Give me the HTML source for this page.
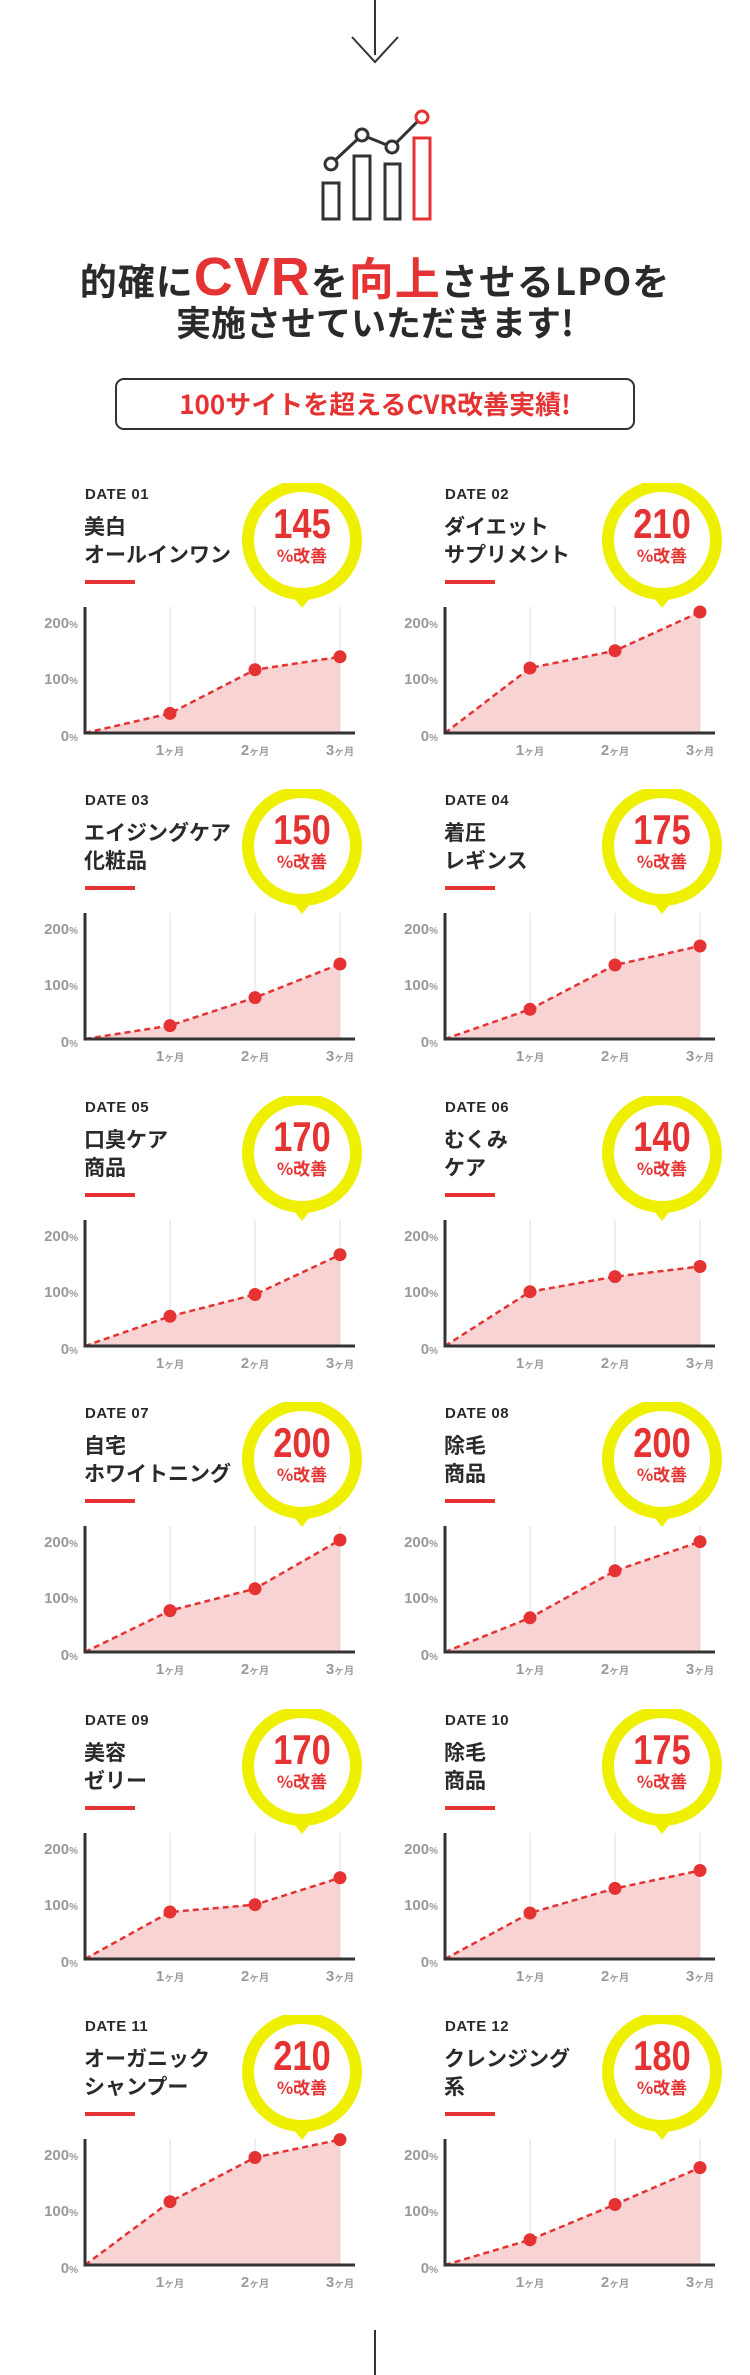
<!DOCTYPE html>
<html><head><meta charset="utf-8">
<style>
*{margin:0;padding:0;box-sizing:border-box}
body{width:750px;height:2375px;background:#fff;position:relative;overflow:hidden;font-family:"Liberation Sans","Noto Sans CJK JP",sans-serif;color:#333}
.abs{position:absolute}
.card{position:absolute;width:375px;height:290px}
.card svg{position:absolute;left:0;top:0}
.date{position:absolute;left:85px;top:3px;font-size:15px;font-weight:bold;color:#2a2a2a;letter-spacing:.5px}
.ttl{position:absolute;left:84px;top:29px;font-size:21px;line-height:28px;font-weight:bold;color:#2a2a2a;white-space:nowrap;font-family:"Noto Sans CJK JP",sans-serif}
.ul{position:absolute;left:85px;top:97px;width:50px;height:4px;background:#e53333}
.h1{position:absolute;left:0;width:750px;text-align:center;font-weight:bold;color:#2a2a2a;font-family:"Noto Sans CJK JP",sans-serif;white-space:nowrap}
.r{color:#e53333}
</style></head><body>

<svg class="abs" style="left:0;top:0" width="750" height="230">
<line x1="375" y1="0" x2="375" y2="55" stroke="#333" stroke-width="2"/>
<polyline points="352,37 375,62 398,37" fill="none" stroke="#333" stroke-width="2"/>
<g fill="none" stroke-width="3">
<rect x="323" y="183" width="16" height="36" stroke="#333"/>
<rect x="354" y="156" width="16" height="63" stroke="#333"/>
<rect x="385" y="164" width="15" height="55" stroke="#333"/>
<rect x="414" y="138" width="16" height="81" stroke="#e53333"/>
<polyline points="331,164 362,135 392,147 422,117" stroke="#333"/>
<circle cx="331" cy="164" r="6" stroke="#333" fill="#fff"/>
<circle cx="362" cy="135" r="6" stroke="#333" fill="#fff"/>
<circle cx="392" cy="147" r="6" stroke="#333" fill="#fff"/>
<circle cx="422" cy="117" r="6" stroke="#e53333" fill="#fff"/>
</g>
</svg>

<div class="h1" style="top:250px;font-size:37px;line-height:52px;letter-spacing:1px">的確に<span class="r" style="font-family:'Liberation Sans',sans-serif;font-size:54px">CVR</span>を<span class="r" style="font-size:45px">向上</span>させるLPOを</div>
<div class="h1" style="top:300px;font-size:35px;line-height:44px">実施させていただきます!</div>
<div class="abs" style="left:115px;top:378px;width:520px;height:52px;border:2px solid #333;border-radius:9px;text-align:center;font-size:26px;line-height:48px;font-weight:bold;color:#e53333;font-family:'Noto Sans CJK JP',sans-serif">100サイトを超えるCVR改善実績!</div>

<div class="card" style="left:0;top:483px"><div class="date">DATE 01</div><div class="ttl">美白<br>オールインワン</div><div class="ul"></div>
<svg width="375" height="290"><g font-weight="bold" font-family="Liberation Sans,sans-serif">
<polygon points="290,110 314,110 302,125" fill="#eef000"/><circle cx="302" cy="57" r="54" fill="#fff" stroke="#eef000" stroke-width="12"/>
<text transform="translate(302,55) scale(0.82,1)" text-anchor="middle" font-size="42" fill="#e53333">145</text>
<text x="302" y="79" text-anchor="middle" font-size="17" fill="#e53333" font-family="Noto Sans CJK JP,sans-serif">%改善</text>
<g stroke="#e8e8e8" stroke-width="1.5"><line x1="170" y1="124" x2="170" y2="250"/><line x1="255" y1="124" x2="255" y2="250"/><line x1="340" y1="124" x2="340" y2="250"/></g>
<polygon points="85,250 170,230.4 255,186.7 340,173.8 340,250" fill="#f7d3d3"/>
<polyline points="85,250 170,230.4 255,186.7 340,173.8" fill="none" stroke="#e53333" stroke-width="2.5" stroke-dasharray="6 4"/>
<g fill="#e53333"><circle cx="170" cy="230.4" r="6.5"/><circle cx="255" cy="186.7" r="6.5"/><circle cx="340" cy="173.8" r="6.5"/></g>
<polyline points="85,124 85,250 355,250" fill="none" stroke="#333" stroke-width="3"/>
<g fill="#999" font-size="15" text-anchor="end"><text x="78" y="145">200<tspan font-size="10">%</tspan></text><text x="78" y="201">100<tspan font-size="10">%</tspan></text><text x="78" y="258">0<tspan font-size="10">%</tspan></text></g>
<g fill="#999" font-size="15" text-anchor="middle"><text x="170" y="272">1<tspan font-size="10">ヶ月</tspan></text><text x="255" y="272">2<tspan font-size="10">ヶ月</tspan></text><text x="340" y="272">3<tspan font-size="10">ヶ月</tspan></text></g>
</g></svg></div>

<div class="card" style="left:360px;top:483px"><div class="date">DATE 02</div><div class="ttl">ダイエット<br>サプリメント</div><div class="ul"></div>
<svg width="375" height="290"><g font-weight="bold" font-family="Liberation Sans,sans-serif">
<polygon points="290,110 314,110 302,125" fill="#eef000"/><circle cx="302" cy="57" r="54" fill="#fff" stroke="#eef000" stroke-width="12"/>
<text transform="translate(302,55) scale(0.82,1)" text-anchor="middle" font-size="42" fill="#e53333">210</text>
<text x="302" y="79" text-anchor="middle" font-size="17" fill="#e53333" font-family="Noto Sans CJK JP,sans-serif">%改善</text>
<g stroke="#e8e8e8" stroke-width="1.5"><line x1="170" y1="124" x2="170" y2="250"/><line x1="255" y1="124" x2="255" y2="250"/><line x1="340" y1="124" x2="340" y2="250"/></g>
<polygon points="85,250 170,185 255,167.7 340,129 340,250" fill="#f7d3d3"/>
<polyline points="85,250 170,185 255,167.7 340,129" fill="none" stroke="#e53333" stroke-width="2.5" stroke-dasharray="6 4"/>
<g fill="#e53333"><circle cx="170" cy="185" r="6.5"/><circle cx="255" cy="167.7" r="6.5"/><circle cx="340" cy="129" r="6.5"/></g>
<polyline points="85,124 85,250 355,250" fill="none" stroke="#333" stroke-width="3"/>
<g fill="#999" font-size="15" text-anchor="end"><text x="78" y="145">200<tspan font-size="10">%</tspan></text><text x="78" y="201">100<tspan font-size="10">%</tspan></text><text x="78" y="258">0<tspan font-size="10">%</tspan></text></g>
<g fill="#999" font-size="15" text-anchor="middle"><text x="170" y="272">1<tspan font-size="10">ヶ月</tspan></text><text x="255" y="272">2<tspan font-size="10">ヶ月</tspan></text><text x="340" y="272">3<tspan font-size="10">ヶ月</tspan></text></g>
</g></svg></div>

<div class="card" style="left:0;top:789px"><div class="date">DATE 03</div><div class="ttl">エイジングケア<br>化粧品</div><div class="ul"></div>
<svg width="375" height="290"><g font-weight="bold" font-family="Liberation Sans,sans-serif">
<polygon points="290,110 314,110 302,125" fill="#eef000"/><circle cx="302" cy="57" r="54" fill="#fff" stroke="#eef000" stroke-width="12"/>
<text transform="translate(302,55) scale(0.82,1)" text-anchor="middle" font-size="42" fill="#e53333">150</text>
<text x="302" y="79" text-anchor="middle" font-size="17" fill="#e53333" font-family="Noto Sans CJK JP,sans-serif">%改善</text>
<g stroke="#e8e8e8" stroke-width="1.5"><line x1="170" y1="124" x2="170" y2="250"/><line x1="255" y1="124" x2="255" y2="250"/><line x1="340" y1="124" x2="340" y2="250"/></g>
<polygon points="85,250 170,236.6 255,208.6 340,175 340,250" fill="#f7d3d3"/>
<polyline points="85,250 170,236.6 255,208.6 340,175" fill="none" stroke="#e53333" stroke-width="2.5" stroke-dasharray="6 4"/>
<g fill="#e53333"><circle cx="170" cy="236.6" r="6.5"/><circle cx="255" cy="208.6" r="6.5"/><circle cx="340" cy="175" r="6.5"/></g>
<polyline points="85,124 85,250 355,250" fill="none" stroke="#333" stroke-width="3"/>
<g fill="#999" font-size="15" text-anchor="end"><text x="78" y="145">200<tspan font-size="10">%</tspan></text><text x="78" y="201">100<tspan font-size="10">%</tspan></text><text x="78" y="258">0<tspan font-size="10">%</tspan></text></g>
<g fill="#999" font-size="15" text-anchor="middle"><text x="170" y="272">1<tspan font-size="10">ヶ月</tspan></text><text x="255" y="272">2<tspan font-size="10">ヶ月</tspan></text><text x="340" y="272">3<tspan font-size="10">ヶ月</tspan></text></g>
</g></svg></div>

<div class="card" style="left:360px;top:789px"><div class="date">DATE 04</div><div class="ttl">着圧<br>レギンス</div><div class="ul"></div>
<svg width="375" height="290"><g font-weight="bold" font-family="Liberation Sans,sans-serif">
<polygon points="290,110 314,110 302,125" fill="#eef000"/><circle cx="302" cy="57" r="54" fill="#fff" stroke="#eef000" stroke-width="12"/>
<text transform="translate(302,55) scale(0.82,1)" text-anchor="middle" font-size="42" fill="#e53333">175</text>
<text x="302" y="79" text-anchor="middle" font-size="17" fill="#e53333" font-family="Noto Sans CJK JP,sans-serif">%改善</text>
<g stroke="#e8e8e8" stroke-width="1.5"><line x1="170" y1="124" x2="170" y2="250"/><line x1="255" y1="124" x2="255" y2="250"/><line x1="340" y1="124" x2="340" y2="250"/></g>
<polygon points="85,250 170,220.3 255,176 340,157 340,250" fill="#f7d3d3"/>
<polyline points="85,250 170,220.3 255,176 340,157" fill="none" stroke="#e53333" stroke-width="2.5" stroke-dasharray="6 4"/>
<g fill="#e53333"><circle cx="170" cy="220.3" r="6.5"/><circle cx="255" cy="176" r="6.5"/><circle cx="340" cy="157" r="6.5"/></g>
<polyline points="85,124 85,250 355,250" fill="none" stroke="#333" stroke-width="3"/>
<g fill="#999" font-size="15" text-anchor="end"><text x="78" y="145">200<tspan font-size="10">%</tspan></text><text x="78" y="201">100<tspan font-size="10">%</tspan></text><text x="78" y="258">0<tspan font-size="10">%</tspan></text></g>
<g fill="#999" font-size="15" text-anchor="middle"><text x="170" y="272">1<tspan font-size="10">ヶ月</tspan></text><text x="255" y="272">2<tspan font-size="10">ヶ月</tspan></text><text x="340" y="272">3<tspan font-size="10">ヶ月</tspan></text></g>
</g></svg></div>

<div class="card" style="left:0;top:1096px"><div class="date">DATE 05</div><div class="ttl">口臭ケア<br>商品</div><div class="ul"></div>
<svg width="375" height="290"><g font-weight="bold" font-family="Liberation Sans,sans-serif">
<polygon points="290,110 314,110 302,125" fill="#eef000"/><circle cx="302" cy="57" r="54" fill="#fff" stroke="#eef000" stroke-width="12"/>
<text transform="translate(302,55) scale(0.82,1)" text-anchor="middle" font-size="42" fill="#e53333">170</text>
<text x="302" y="79" text-anchor="middle" font-size="17" fill="#e53333" font-family="Noto Sans CJK JP,sans-serif">%改善</text>
<g stroke="#e8e8e8" stroke-width="1.5"><line x1="170" y1="124" x2="170" y2="250"/><line x1="255" y1="124" x2="255" y2="250"/><line x1="340" y1="124" x2="340" y2="250"/></g>
<polygon points="85,250 170,220.3 255,198.5 340,158.7 340,250" fill="#f7d3d3"/>
<polyline points="85,250 170,220.3 255,198.5 340,158.7" fill="none" stroke="#e53333" stroke-width="2.5" stroke-dasharray="6 4"/>
<g fill="#e53333"><circle cx="170" cy="220.3" r="6.5"/><circle cx="255" cy="198.5" r="6.5"/><circle cx="340" cy="158.7" r="6.5"/></g>
<polyline points="85,124 85,250 355,250" fill="none" stroke="#333" stroke-width="3"/>
<g fill="#999" font-size="15" text-anchor="end"><text x="78" y="145">200<tspan font-size="10">%</tspan></text><text x="78" y="201">100<tspan font-size="10">%</tspan></text><text x="78" y="258">0<tspan font-size="10">%</tspan></text></g>
<g fill="#999" font-size="15" text-anchor="middle"><text x="170" y="272">1<tspan font-size="10">ヶ月</tspan></text><text x="255" y="272">2<tspan font-size="10">ヶ月</tspan></text><text x="340" y="272">3<tspan font-size="10">ヶ月</tspan></text></g>
</g></svg></div>

<div class="card" style="left:360px;top:1096px"><div class="date">DATE 06</div><div class="ttl">むくみ<br>ケア</div><div class="ul"></div>
<svg width="375" height="290"><g font-weight="bold" font-family="Liberation Sans,sans-serif">
<polygon points="290,110 314,110 302,125" fill="#eef000"/><circle cx="302" cy="57" r="54" fill="#fff" stroke="#eef000" stroke-width="12"/>
<text transform="translate(302,55) scale(0.82,1)" text-anchor="middle" font-size="42" fill="#e53333">140</text>
<text x="302" y="79" text-anchor="middle" font-size="17" fill="#e53333" font-family="Noto Sans CJK JP,sans-serif">%改善</text>
<g stroke="#e8e8e8" stroke-width="1.5"><line x1="170" y1="124" x2="170" y2="250"/><line x1="255" y1="124" x2="255" y2="250"/><line x1="340" y1="124" x2="340" y2="250"/></g>
<polygon points="85,250 170,195.7 255,180.6 340,170.5 340,250" fill="#f7d3d3"/>
<polyline points="85,250 170,195.7 255,180.6 340,170.5" fill="none" stroke="#e53333" stroke-width="2.5" stroke-dasharray="6 4"/>
<g fill="#e53333"><circle cx="170" cy="195.7" r="6.5"/><circle cx="255" cy="180.6" r="6.5"/><circle cx="340" cy="170.5" r="6.5"/></g>
<polyline points="85,124 85,250 355,250" fill="none" stroke="#333" stroke-width="3"/>
<g fill="#999" font-size="15" text-anchor="end"><text x="78" y="145">200<tspan font-size="10">%</tspan></text><text x="78" y="201">100<tspan font-size="10">%</tspan></text><text x="78" y="258">0<tspan font-size="10">%</tspan></text></g>
<g fill="#999" font-size="15" text-anchor="middle"><text x="170" y="272">1<tspan font-size="10">ヶ月</tspan></text><text x="255" y="272">2<tspan font-size="10">ヶ月</tspan></text><text x="340" y="272">3<tspan font-size="10">ヶ月</tspan></text></g>
</g></svg></div>

<div class="card" style="left:0;top:1402px"><div class="date">DATE 07</div><div class="ttl">自宅<br>ホワイトニング</div><div class="ul"></div>
<svg width="375" height="290"><g font-weight="bold" font-family="Liberation Sans,sans-serif">
<polygon points="290,110 314,110 302,125" fill="#eef000"/><circle cx="302" cy="57" r="54" fill="#fff" stroke="#eef000" stroke-width="12"/>
<text transform="translate(302,55) scale(0.82,1)" text-anchor="middle" font-size="42" fill="#e53333">200</text>
<text x="302" y="79" text-anchor="middle" font-size="17" fill="#e53333" font-family="Noto Sans CJK JP,sans-serif">%改善</text>
<g stroke="#e8e8e8" stroke-width="1.5"><line x1="170" y1="124" x2="170" y2="250"/><line x1="255" y1="124" x2="255" y2="250"/><line x1="340" y1="124" x2="340" y2="250"/></g>
<polygon points="85,250 170,208.6 255,186.7 340,138 340,250" fill="#f7d3d3"/>
<polyline points="85,250 170,208.6 255,186.7 340,138" fill="none" stroke="#e53333" stroke-width="2.5" stroke-dasharray="6 4"/>
<g fill="#e53333"><circle cx="170" cy="208.6" r="6.5"/><circle cx="255" cy="186.7" r="6.5"/><circle cx="340" cy="138" r="6.5"/></g>
<polyline points="85,124 85,250 355,250" fill="none" stroke="#333" stroke-width="3"/>
<g fill="#999" font-size="15" text-anchor="end"><text x="78" y="145">200<tspan font-size="10">%</tspan></text><text x="78" y="201">100<tspan font-size="10">%</tspan></text><text x="78" y="258">0<tspan font-size="10">%</tspan></text></g>
<g fill="#999" font-size="15" text-anchor="middle"><text x="170" y="272">1<tspan font-size="10">ヶ月</tspan></text><text x="255" y="272">2<tspan font-size="10">ヶ月</tspan></text><text x="340" y="272">3<tspan font-size="10">ヶ月</tspan></text></g>
</g></svg></div>

<div class="card" style="left:360px;top:1402px"><div class="date">DATE 08</div><div class="ttl">除毛<br>商品</div><div class="ul"></div>
<svg width="375" height="290"><g font-weight="bold" font-family="Liberation Sans,sans-serif">
<polygon points="290,110 314,110 302,125" fill="#eef000"/><circle cx="302" cy="57" r="54" fill="#fff" stroke="#eef000" stroke-width="12"/>
<text transform="translate(302,55) scale(0.82,1)" text-anchor="middle" font-size="42" fill="#e53333">200</text>
<text x="302" y="79" text-anchor="middle" font-size="17" fill="#e53333" font-family="Noto Sans CJK JP,sans-serif">%改善</text>
<g stroke="#e8e8e8" stroke-width="1.5"><line x1="170" y1="124" x2="170" y2="250"/><line x1="255" y1="124" x2="255" y2="250"/><line x1="340" y1="124" x2="340" y2="250"/></g>
<polygon points="85,250 170,215.8 255,168.8 340,139.7 340,250" fill="#f7d3d3"/>
<polyline points="85,250 170,215.8 255,168.8 340,139.7" fill="none" stroke="#e53333" stroke-width="2.5" stroke-dasharray="6 4"/>
<g fill="#e53333"><circle cx="170" cy="215.8" r="6.5"/><circle cx="255" cy="168.8" r="6.5"/><circle cx="340" cy="139.7" r="6.5"/></g>
<polyline points="85,124 85,250 355,250" fill="none" stroke="#333" stroke-width="3"/>
<g fill="#999" font-size="15" text-anchor="end"><text x="78" y="145">200<tspan font-size="10">%</tspan></text><text x="78" y="201">100<tspan font-size="10">%</tspan></text><text x="78" y="258">0<tspan font-size="10">%</tspan></text></g>
<g fill="#999" font-size="15" text-anchor="middle"><text x="170" y="272">1<tspan font-size="10">ヶ月</tspan></text><text x="255" y="272">2<tspan font-size="10">ヶ月</tspan></text><text x="340" y="272">3<tspan font-size="10">ヶ月</tspan></text></g>
</g></svg></div>

<div class="card" style="left:0;top:1709px"><div class="date">DATE 09</div><div class="ttl">美容<br>ゼリー</div><div class="ul"></div>
<svg width="375" height="290"><g font-weight="bold" font-family="Liberation Sans,sans-serif">
<polygon points="290,110 314,110 302,125" fill="#eef000"/><circle cx="302" cy="57" r="54" fill="#fff" stroke="#eef000" stroke-width="12"/>
<text transform="translate(302,55) scale(0.82,1)" text-anchor="middle" font-size="42" fill="#e53333">170</text>
<text x="302" y="79" text-anchor="middle" font-size="17" fill="#e53333" font-family="Noto Sans CJK JP,sans-serif">%改善</text>
<g stroke="#e8e8e8" stroke-width="1.5"><line x1="170" y1="124" x2="170" y2="250"/><line x1="255" y1="124" x2="255" y2="250"/><line x1="340" y1="124" x2="340" y2="250"/></g>
<polygon points="85,250 170,203 255,195.7 340,168.8 340,250" fill="#f7d3d3"/>
<polyline points="85,250 170,203 255,195.7 340,168.8" fill="none" stroke="#e53333" stroke-width="2.5" stroke-dasharray="6 4"/>
<g fill="#e53333"><circle cx="170" cy="203" r="6.5"/><circle cx="255" cy="195.7" r="6.5"/><circle cx="340" cy="168.8" r="6.5"/></g>
<polyline points="85,124 85,250 355,250" fill="none" stroke="#333" stroke-width="3"/>
<g fill="#999" font-size="15" text-anchor="end"><text x="78" y="145">200<tspan font-size="10">%</tspan></text><text x="78" y="201">100<tspan font-size="10">%</tspan></text><text x="78" y="258">0<tspan font-size="10">%</tspan></text></g>
<g fill="#999" font-size="15" text-anchor="middle"><text x="170" y="272">1<tspan font-size="10">ヶ月</tspan></text><text x="255" y="272">2<tspan font-size="10">ヶ月</tspan></text><text x="340" y="272">3<tspan font-size="10">ヶ月</tspan></text></g>
</g></svg></div>

<div class="card" style="left:360px;top:1709px"><div class="date">DATE 10</div><div class="ttl">除毛<br>商品</div><div class="ul"></div>
<svg width="375" height="290"><g font-weight="bold" font-family="Liberation Sans,sans-serif">
<polygon points="290,110 314,110 302,125" fill="#eef000"/><circle cx="302" cy="57" r="54" fill="#fff" stroke="#eef000" stroke-width="12"/>
<text transform="translate(302,55) scale(0.82,1)" text-anchor="middle" font-size="42" fill="#e53333">175</text>
<text x="302" y="79" text-anchor="middle" font-size="17" fill="#e53333" font-family="Noto Sans CJK JP,sans-serif">%改善</text>
<g stroke="#e8e8e8" stroke-width="1.5"><line x1="170" y1="124" x2="170" y2="250"/><line x1="255" y1="124" x2="255" y2="250"/><line x1="340" y1="124" x2="340" y2="250"/></g>
<polygon points="85,250 170,204 255,179.4 340,161.5 340,250" fill="#f7d3d3"/>
<polyline points="85,250 170,204 255,179.4 340,161.5" fill="none" stroke="#e53333" stroke-width="2.5" stroke-dasharray="6 4"/>
<g fill="#e53333"><circle cx="170" cy="204" r="6.5"/><circle cx="255" cy="179.4" r="6.5"/><circle cx="340" cy="161.5" r="6.5"/></g>
<polyline points="85,124 85,250 355,250" fill="none" stroke="#333" stroke-width="3"/>
<g fill="#999" font-size="15" text-anchor="end"><text x="78" y="145">200<tspan font-size="10">%</tspan></text><text x="78" y="201">100<tspan font-size="10">%</tspan></text><text x="78" y="258">0<tspan font-size="10">%</tspan></text></g>
<g fill="#999" font-size="15" text-anchor="middle"><text x="170" y="272">1<tspan font-size="10">ヶ月</tspan></text><text x="255" y="272">2<tspan font-size="10">ヶ月</tspan></text><text x="340" y="272">3<tspan font-size="10">ヶ月</tspan></text></g>
</g></svg></div>

<div class="card" style="left:0;top:2015px"><div class="date">DATE 11</div><div class="ttl">オーガニック<br>シャンプー</div><div class="ul"></div>
<svg width="375" height="290"><g font-weight="bold" font-family="Liberation Sans,sans-serif">
<polygon points="290,110 314,110 302,125" fill="#eef000"/><circle cx="302" cy="57" r="54" fill="#fff" stroke="#eef000" stroke-width="12"/>
<text transform="translate(302,55) scale(0.82,1)" text-anchor="middle" font-size="42" fill="#e53333">210</text>
<text x="302" y="79" text-anchor="middle" font-size="17" fill="#e53333" font-family="Noto Sans CJK JP,sans-serif">%改善</text>
<g stroke="#e8e8e8" stroke-width="1.5"><line x1="170" y1="124" x2="170" y2="250"/><line x1="255" y1="124" x2="255" y2="250"/><line x1="340" y1="124" x2="340" y2="250"/></g>
<polygon points="85,250 170,186.7 255,142.5 340,124.6 340,250" fill="#f7d3d3"/>
<polyline points="85,250 170,186.7 255,142.5 340,124.6" fill="none" stroke="#e53333" stroke-width="2.5" stroke-dasharray="6 4"/>
<g fill="#e53333"><circle cx="170" cy="186.7" r="6.5"/><circle cx="255" cy="142.5" r="6.5"/><circle cx="340" cy="124.6" r="6.5"/></g>
<polyline points="85,124 85,250 355,250" fill="none" stroke="#333" stroke-width="3"/>
<g fill="#999" font-size="15" text-anchor="end"><text x="78" y="145">200<tspan font-size="10">%</tspan></text><text x="78" y="201">100<tspan font-size="10">%</tspan></text><text x="78" y="258">0<tspan font-size="10">%</tspan></text></g>
<g fill="#999" font-size="15" text-anchor="middle"><text x="170" y="272">1<tspan font-size="10">ヶ月</tspan></text><text x="255" y="272">2<tspan font-size="10">ヶ月</tspan></text><text x="340" y="272">3<tspan font-size="10">ヶ月</tspan></text></g>
</g></svg></div>

<div class="card" style="left:360px;top:2015px"><div class="date">DATE 12</div><div class="ttl">クレンジング<br>系</div><div class="ul"></div>
<svg width="375" height="290"><g font-weight="bold" font-family="Liberation Sans,sans-serif">
<polygon points="290,110 314,110 302,125" fill="#eef000"/><circle cx="302" cy="57" r="54" fill="#fff" stroke="#eef000" stroke-width="12"/>
<text transform="translate(302,55) scale(0.82,1)" text-anchor="middle" font-size="42" fill="#e53333">180</text>
<text x="302" y="79" text-anchor="middle" font-size="17" fill="#e53333" font-family="Noto Sans CJK JP,sans-serif">%改善</text>
<g stroke="#e8e8e8" stroke-width="1.5"><line x1="170" y1="124" x2="170" y2="250"/><line x1="255" y1="124" x2="255" y2="250"/><line x1="340" y1="124" x2="340" y2="250"/></g>
<polygon points="85,250 170,224.8 255,189.5 340,152.6 340,250" fill="#f7d3d3"/>
<polyline points="85,250 170,224.8 255,189.5 340,152.6" fill="none" stroke="#e53333" stroke-width="2.5" stroke-dasharray="6 4"/>
<g fill="#e53333"><circle cx="170" cy="224.8" r="6.5"/><circle cx="255" cy="189.5" r="6.5"/><circle cx="340" cy="152.6" r="6.5"/></g>
<polyline points="85,124 85,250 355,250" fill="none" stroke="#333" stroke-width="3"/>
<g fill="#999" font-size="15" text-anchor="end"><text x="78" y="145">200<tspan font-size="10">%</tspan></text><text x="78" y="201">100<tspan font-size="10">%</tspan></text><text x="78" y="258">0<tspan font-size="10">%</tspan></text></g>
<g fill="#999" font-size="15" text-anchor="middle"><text x="170" y="272">1<tspan font-size="10">ヶ月</tspan></text><text x="255" y="272">2<tspan font-size="10">ヶ月</tspan></text><text x="340" y="272">3<tspan font-size="10">ヶ月</tspan></text></g>
</g></svg></div>

<div class="abs" style="left:374px;top:2330px;width:2px;height:45px;background:#333"></div>
</body></html>
